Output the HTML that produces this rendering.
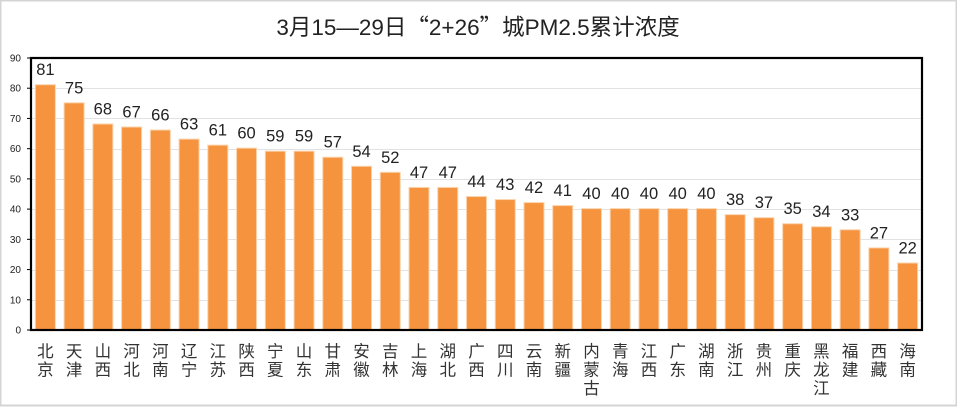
<!DOCTYPE html>
<html><head><meta charset="utf-8">
<style>
html,body{margin:0;padding:0;background:#fff;}
body{width:957px;height:407px;overflow:hidden;}
svg{display:block;}
</style></head>
<body>
<svg width="957" height="407" viewBox="0 0 957 407" xmlns="http://www.w3.org/2000/svg">
<rect x="0.5" y="0.5" width="956" height="405" fill="#fff" stroke="#d4d4d4" stroke-width="2"/>
<text x="478" y="35" text-anchor="middle" font-family="Liberation Sans, Noto Sans CJK SC, sans-serif" font-size="22.5" fill="#222">3月15—29日<tspan font-family="Noto Sans CJK SC, sans-serif">“</tspan>2+26<tspan font-family="Noto Sans CJK SC, sans-serif">”</tspan>城PM2.5累计浓度</text>
<g id="grid" stroke="#e2e2e2" stroke-width="1"></g>
<g id="bars"></g>
<g id="axes"></g>
<g id="labels" font-family="Liberation Sans, Noto Sans CJK SC, sans-serif"></g>
</svg>
<script>
(function(){
var NS="http://www.w3.org/2000/svg";
function el(t,a,p,txt){var e=document.createElementNS(NS,t);for(var k in a)e.setAttribute(k,a[k]);if(txt!=null)e.textContent=txt;p.appendChild(e);return e;}
var vals=[81,75,68,67,66,63,61,60,59,59,57,54,52,47,47,44,43,42,41,40,40,40,40,40,38,37,35,34,33,27,22];
var names=["北京","天津","山西","河北","河南","辽宁","江苏","陕西","宁夏","山东","甘肃","安徽","吉林","上海","湖北","广西","四川","云南","新疆","内蒙古","青海","江西","广东","湖南","浙江","贵州","重庆","黑龙江","福建","西藏","海南"];
var L=31,R=922,T=58,B=330,sc=(B-T)/90,slot=(R-L)/31,bw=19;
var grid=document.getElementById("grid"),bars=document.getElementById("bars"),axes=document.getElementById("axes"),lab=document.getElementById("labels");
for(var k=1;k<=9;k++){var y=Math.round(B-k*10*sc)+0.5;el("line",{x1:L,x2:R,y1:y,y2:y},grid);}
for(var i=0;i<31;i++){
 var cx=L+slot*(i+0.5),h=vals[i]*sc,yt=B-h;
 el("rect",{x:cx-bw/2-1,y:yt-1,width:bw+2,height:h+1,fill:"#fbd3ac"},bars);
 el("rect",{x:cx-bw/2,y:yt,width:bw,height:h,fill:"#f5933f"},bars);
 el("text",{x:cx,y:yt-10,"text-anchor":"middle","font-size":"16.5",fill:"#222"},lab,String(vals[i]));
 var n=names[i];
 for(var j=0;j<n.length;j++){
  el("text",{x:cx,y:357+j*18.5,"text-anchor":"middle","font-size":"16.5",fill:"#333"},lab,n[j]);
 }
}
for(var k=0;k<=9;k++){
 var y=B-k*10*sc;
 el("line",{x1:27,x2:L,y1:y,y2:y,stroke:"#000","stroke-width":1},axes);
 el("text",{x:21,y:y+3.5,"text-anchor":"end","font-size":"10",fill:"#222","font-family":"Liberation Sans, sans-serif"},axes,String(k*10));
}
el("rect",{x:L,y:T,width:R-L,height:B-T,fill:"none",stroke:"#000","stroke-width":2.2},axes);
})();
</script>
</body></html>
